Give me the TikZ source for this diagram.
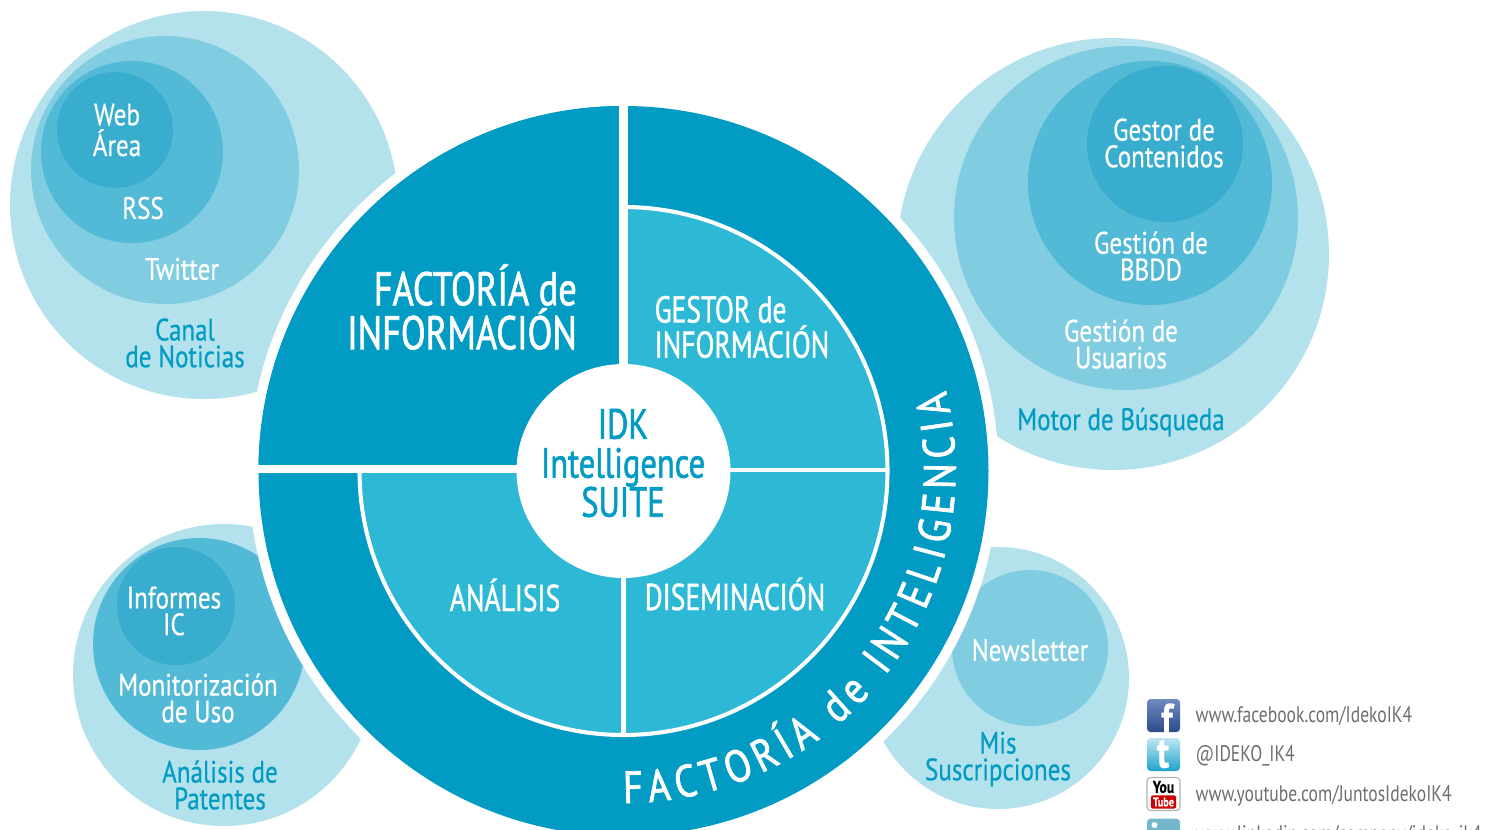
\documentclass[tikz,border=0pt]{standalone}
\usepackage{fontspec}
\setmainfont[FakeStretch=0.81,FakeBold=0.45]{PT Sans}
\newfontfamily\quadfont[FakeStretch=0.74,FakeBold=1.1]{PT Sans}
\newfontfamily\bigfont[FakeStretch=0.77,FakeBold=1.3]{PT Sans}
\newfontfamily\ringfont[FakeStretch=0.85,FakeBold=1.6]{PT Sans}
\newfontfamily\webfont[FakeStretch=0.78]{PT Sans}
\usetikzlibrary{decorations.text}
\definecolor{ringblue}{HTML}{029BC3}
\definecolor{quadblue}{HTML}{2DB9D6}
\definecolor{paleone}{HTML}{B3E2EC}
\definecolor{paletwo}{HTML}{80CDE1}
\definecolor{palethree}{HTML}{52B9D6}
\definecolor{palefour}{HTML}{38ADCD}
\definecolor{webgray}{HTML}{6E6E6E}
\definecolor{fbtop}{HTML}{6F8BBF}
\definecolor{fbbot}{HTML}{2B4A8B}
\definecolor{twtop}{HTML}{BFE6F2}
\definecolor{twbot}{HTML}{1FA3CC}
\tikzset{
	bubbleone/.style={fill=paleone},
	bubbletwo/.style={fill=paletwo},
	bubblethree/.style={fill=palethree},
	bubblefour/.style={fill=palefour},
	lab/.style={inner sep=0pt,align=center,text=white,font=\fontsize{8.8}{7.6}\selectfont},
	labdark/.style={lab,text=ringblue},
	quad/.style={inner sep=0pt,align=left,text=white,font=\quadfont\fontsize{10.6}{10}\selectfont},
	weblab/.style={inner sep=0pt,anchor=west,text=webgray,font=\webfont\fontsize{6.4}{7}\selectfont},
	iconbox/.style={rounded corners=1pt,minimum size=33*0.01cm,inner sep=0pt}
}
\begin{document}
\begin{tikzpicture}[x=0.01cm,y=-0.01cm]
		\useasboundingbox (0,0) rectangle (1493,829);
		\clip (0,0) rectangle (1493,829);
		\coordinate (c) at (623.5,471);

		\fill[bubbleone] (204,205) circle[radius=194];
		\fill[bubbletwo] (165,170) circle[radius=134];
		\fill[bubblethree] (132,152) circle[radius=91];
		\fill[bubblefour] (115,130) circle[radius=58];

		\fill[bubbleone] (1113,254) circle[radius=216];
		\fill[bubbletwo] (1126,218) circle[radius=172];
		\fill[bubblethree] (1150,183) circle[radius=122];
		\fill[bubblefour] (1165,144) circle[radius=78];

		\fill[bubbleone] (224,675) circle[radius=151];
		\fill[bubblethree] (199,644) circle[radius=106];
		\fill[bubblefour] (176,606) circle[radius=59];

		\fill[bubbleone] (998,678) circle[radius=131];
		\fill[bubbletwo] (1030,648) circle[radius=78];

		\fill[white] (c) circle[radius=375];
		\fill[ringblue] (c) circle[radius=365];
		\filldraw[fill=quadblue,draw=white,line width=1.15pt] (c) circle[radius=264];
		\fill[ringblue] (c) -- (258.5,471) arc (180:270:365) -- cycle;

		\coordinate (hl) at (258,469);
		\coordinate (hr) at (888,470);
		\coordinate (vt) at (623.5,100);
		\coordinate (vb) at (623.5,734);
		\draw[white,line width=2.3pt] (c) -- (vt);
		\draw[white,line width=2.3pt] (c |- hl) -- (hl);
		\draw[white,line width=1.15pt] (c) -- (vb);
		\draw[white,line width=1.15pt] (c |- hr) -- (hr);
		\fill[white] (c) circle[radius=107];

		\path[decorate,decoration={text along path,text align=fit to path,
			text={|\ringfont\fontsize{12.8}{13}\selectfont\color{white}|FACTORÍA de INTELIGENCIA}}]
		(c) ++(90:332) arc (90:-14:332);

		\node[inner sep=0pt,align=center,text=ringblue,font=\bigfont\fontsize{12}{11.1}\selectfont] (suite) at (623,463) {IDK\\Intelligence\\SUITE};
		\node[inner sep=0pt,align=right,text=white,font=\bigfont\fontsize{13.4}{12.5}\selectfont] (finfo) at (462,307) {FACTORÍA de\\INFORMACIÓN};
		\node[quad] (ginfo) at (742,327) {GESTOR de\\INFORMACIÓN};
		\node[quad] (analisis) at (505,595) {ANÁLISIS};
		\node[quad] (disem) at (735,594) {DISEMINACIÓN};

		\node[lab] (web) at (117,130) {Web\\Área};
		\node[lab] (rss) at (143,208) {RSS};
		\node[lab] (twit) at (182,269) {Twitter};
		\node[labdark] (canal) at (185,343) {Canal\\de Noticias};

		\node[lab] (gcont) at (1164,143) {Gestor de\\Contenidos};
		\node[lab] (gbbdd) at (1151,256) {Gestión de\\BBDD};
		\node[lab] (gusu) at (1121,344) {Gestión de\\Usuarios};
		\node[labdark] (motor) at (1121,422) {Motor de Búsqueda};

		\node[lab] (inf) at (174,611) {Informes\\IC};
		\node[lab] (moni) at (198,698) {Monitorización\\de Uso};
		\node[labdark] (pat) at (220,785) {Análisis de\\Patentes};

		\node[lab] (news) at (1030,650) {Newsletter};
		\node[labdark] (susc) at (998,759) {Mis\\Suscripciones};

		\node[iconbox,top color=fbtop,bottom color=fbbot] (fb) at (1163.5,715.5) {};
		\node[inner sep=0pt,text=white,font=\bfseries\fontsize{12.5}{12.5}\selectfont] (fbf) at (1167,719) {f};
		\node[iconbox,top color=twtop,bottom color=twbot] (tw) at (1163.5,754.5) {};
		\node[inner sep=0pt,text=white,font=\bfseries\fontsize{12.5}{12.5}\selectfont] (twt) at (1163,754) {t};
		\node[iconbox,fill=white,draw=black!30,line width=0.3pt] (yt) at (1163.5,794) {};
		\node[inner sep=0pt,font=\bfseries\fontsize{4.8}{4.8}\selectfont] (ytyou) at (1163.5,787) {You};
		\node[inner sep=0.6pt,rounded corners=0.6pt,fill=red!80!black,text=white,font=\bfseries\fontsize{3.6}{3.6}\selectfont] (yttube) at (1163.5,802) {Tube};
		\node[iconbox,fill=paletwo!90!black,anchor=north] (li) at (1163.5,818) {};
		\fill[white] (li.north) ++(-9,7) circle[radius=3];

		\node[weblab] (wfb) at (1195,716) {www.facebook.com/IdekoIK4};
		\node[weblab] (wtw) at (1195,756) {@IDEKO\_IK4};
		\node[weblab] (wyt) at (1195,796) {www.youtube.com/JuntosIdekoIK4};
		\node[weblab] (wli) at (1195,836) {www.linkedin.com/company/ideko-ik4};
		\end{tikzpicture}
\end{document}
